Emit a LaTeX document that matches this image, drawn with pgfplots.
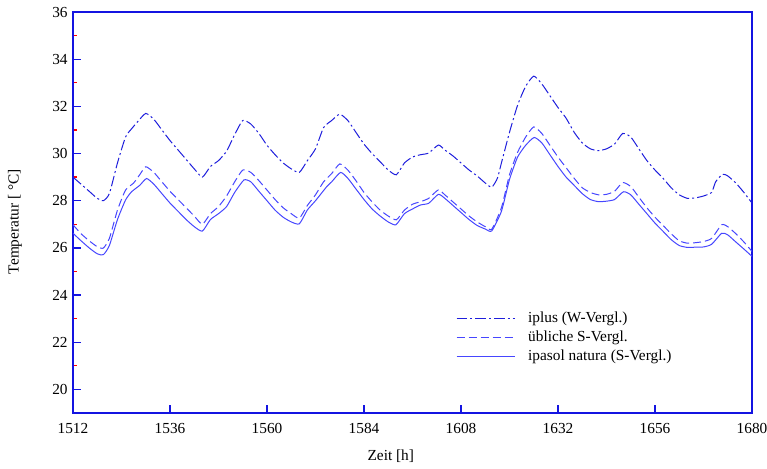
\documentclass[border=0pt]{standalone}
\usepackage{fontspec}
\setmainfont{Liberation Serif}
\usepackage{pgfplots}
\pgfplotsset{compat=1.18}
\usetikzlibrary{calc}
\definecolor{cA}{RGB}{30,30,220}
\definecolor{cB}{RGB}{70,70,255}
\definecolor{cAx}{RGB}{20,20,225}
\begin{document}
\fontsize{11.5pt}{13.5pt}\selectfont
\begin{tikzpicture}
\begin{axis}[
  scale only axis,
  width=509.25pt, height=300.75pt,
  xmin=1512, xmax=1680, ymin=19, ymax=36,
  xtick={1512,1536,...,1680},
  ytick={20,22,...,36},
  minor ytick={19,21,...,35},
  xtick pos=bottom, ytick pos=left,
  xtick align=inside, ytick align=inside,
  major tick length=6pt,
  minor tick length=3pt,
  every major tick/.append style={cAx, line width=1pt},
  every minor tick/.append style={red, line width=1pt},
  axis line style={cAx, line width=1.4pt},
  /pgf/number format/assume math mode=true,
  /pgf/number format/1000 sep={},
  tick label style={font=\fontsize{11.5pt}{13.5pt}\selectfont, black},
  xticklabel style={yshift=-4pt},
  xlabel={Zeit [h]},
  xlabel style={at={(axis description cs:0.468,0)}, anchor=center, yshift=-32.5pt},
  ylabel={Temperatur [ °C]},
  ylabel style={at={(axis description cs:-0.0854,0.477)}, anchor=center},
  label style={font=\fontsize{11.5pt}{13.5pt}\selectfont},
  legend style={at={(axis description cs:0.564,0.254)}, anchor=north west, draw=none, fill=none,
    inner sep=0pt, row sep=3.25pt, column sep=0pt,
    nodes={inner sep=0pt, text height=8.5pt, text depth=2.5pt, anchor=west, font=\fontsize{11.5pt}{13.5pt}\selectfont}},
  legend cell align=left,
  legend image code/.code={\draw[#1] (0pt,0pt) -- (43.5pt,0pt); \path (53.25pt,0pt);},
]
\coordinate (sw) at (rel axis cs:0,0);
\coordinate (ne) at (rel axis cs:1,1);
\addplot[cA, line width=0.75pt, smooth, tension=0.35, dash pattern=on 8pt off 2.25pt on 1.5pt off 2.25pt] coordinates {
(1512,29.0) (1514,28.7) (1516,28.4) (1518,28.1) (1519.5,28.0) (1521,28.3) (1523,29.6) (1525,30.7)
(1526.5,31.05) (1528,31.35) (1530,31.7) (1532,31.45) (1534,31.0) (1536,30.55) (1538,30.15) (1540,29.75)
(1542,29.35) (1544,29.0) (1546,29.45) (1548,29.7) (1550,30.1) (1552,30.8) (1554,31.4) (1556,31.25)
(1558,30.85) (1560,30.35) (1562,29.95) (1564,29.6) (1566,29.35) (1568,29.2) (1570,29.7) (1572,30.2)
(1574,31.1) (1576,31.4) (1578,31.67) (1580,31.4) (1582,30.9) (1584,30.4) (1586,30.0) (1588,29.65)
(1590,29.3) (1592,29.1) (1594,29.6) (1596,29.85) (1598,29.95) (1600,30.02) (1602.4,30.36) (1604,30.15)
(1606,29.9) (1608,29.6) (1610,29.3) (1612,29.05) (1614,28.75) (1615.6,28.57) (1617,28.95) (1618,29.6)
(1620,30.9) (1622,32.05) (1624,32.85) (1626,33.28) (1628,32.95) (1630,32.45) (1632,31.95) (1634,31.5)
(1636,30.9) (1638,30.45) (1640,30.2) (1642,30.12) (1644,30.2) (1646,30.4) (1648,30.85) (1650,30.7)
(1652,30.2) (1654,29.7) (1656,29.3) (1658,28.95) (1660,28.55) (1662,28.25) (1664,28.1) (1666,28.12)
(1668,28.2) (1670,28.35) (1671,28.8) (1672.7,29.12) (1674,29.05) (1676,28.75) (1678,28.35) (1680,27.9)
};
\addlegendentry{iplus (W-Vergl.)}
\addplot[cB, line width=0.75pt, smooth, tension=0.35, dash pattern=on 6pt off 3pt] coordinates {
(1512,26.98) (1514,26.6) (1516,26.3) (1518,26.05) (1519.5,25.99) (1521,26.4) (1523,27.6) (1525,28.45)
(1527,28.75) (1528.5,29.1) (1530,29.44) (1532,29.2) (1534,28.8) (1536,28.4) (1538,28.05) (1540,27.7)
(1542,27.35) (1544,27.0) (1546,27.45) (1548,27.75) (1550,28.2) (1552,28.8) (1554,29.3) (1556,29.2)
(1558,28.85) (1560,28.45) (1562,28.05) (1564,27.7) (1566,27.45) (1568,27.26) (1570,27.8) (1572,28.25)
(1574,28.8) (1576,29.15) (1578,29.56) (1580,29.3) (1582,28.85) (1584,28.35) (1586,27.95) (1588,27.6)
(1590,27.35) (1592,27.19) (1594,27.6) (1596,27.85) (1598,27.96) (1600,28.1) (1602.4,28.46) (1604,28.25)
(1606,27.95) (1608,27.65) (1610,27.35) (1612,27.1) (1614,26.9) (1615.6,26.79) (1618,27.7) (1620,29.1)
(1622,30.05) (1624,30.7) (1626,31.13) (1628,30.85) (1630,30.35) (1632,29.85) (1634,29.4) (1636,28.95)
(1638,28.55) (1640,28.35) (1642,28.25) (1644,28.27) (1646,28.4) (1648,28.77) (1650,28.6) (1652,28.15)
(1654,27.7) (1656,27.3) (1658,26.95) (1660,26.6) (1662,26.3) (1664,26.2) (1666,26.22) (1668,26.27)
(1670,26.4) (1672.5,26.98) (1674,26.9) (1676,26.6) (1678,26.25) (1680,25.85)
};
\addlegendentry{übliche S-Vergl.}
\addplot[cB, line width=0.75pt, smooth, tension=0.35] coordinates {
(1512,26.62) (1514,26.3) (1516,26.0) (1518,25.75) (1519.5,25.71) (1521,26.1) (1523,27.2) (1525,28.03)
(1526.5,28.38) (1528.5,28.65) (1530.2,28.94) (1532,28.7) (1534,28.3) (1536,27.9) (1538,27.55) (1540,27.2)
(1542,26.9) (1544,26.71) (1546,27.2) (1548,27.45) (1550,27.75) (1552,28.35) (1554.3,28.88) (1556,28.8)
(1558,28.4) (1560,28.0) (1562,27.6) (1564,27.3) (1566,27.1) (1568,27.02) (1570,27.61) (1572,28.0)
(1574.8,28.6) (1576,28.8) (1578.2,29.2) (1580,28.95) (1582,28.5) (1584,28.05) (1586,27.65) (1588,27.35)
(1590,27.1) (1591.9,26.98) (1594,27.45) (1596,27.65) (1598,27.82) (1600,27.89) (1602.4,28.27) (1604,28.1)
(1606,27.8) (1608,27.5) (1610,27.2) (1612,26.95) (1614,26.8) (1615.6,26.72) (1618,27.55) (1620,28.9)
(1622,29.85) (1624,30.35) (1626.1,30.68) (1628,30.45) (1630,29.95) (1632,29.45) (1634,29.0) (1636,28.65)
(1638,28.3) (1640,28.05) (1642,27.96) (1644,27.98) (1646,28.05) (1648.2,28.38) (1650,28.25) (1652,27.85)
(1654,27.45) (1656,27.05) (1658,26.7) (1660,26.35) (1662,26.1) (1664,26.02) (1666,26.03) (1668,26.04)
(1670,26.15) (1672.5,26.62) (1674,26.55) (1676,26.25) (1678,25.95) (1680,25.64)
};
\addlegendentry{ipasol natura (S-Vergl.)}
\end{axis}
\pgfresetboundingbox
\path[use as bounding box] ($(sw)+(-54.75pt,-41.25pt)$) rectangle ($(ne)+(11.25pt,9pt)$);
\end{tikzpicture}
\end{document}
